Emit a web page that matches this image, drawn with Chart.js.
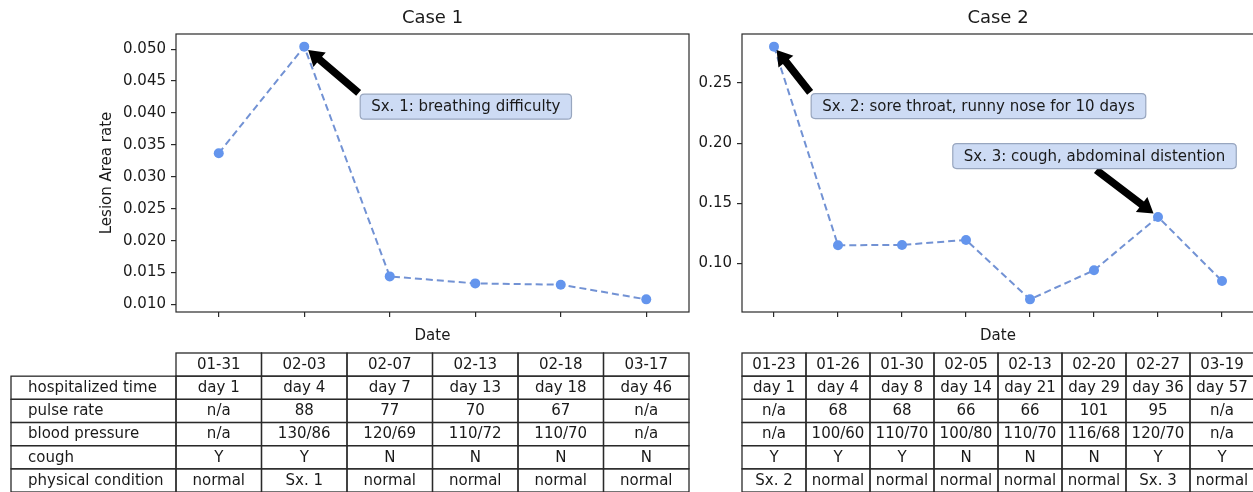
<!DOCTYPE html>
<html><head><meta charset="utf-8">
<script src="https://cdn.jsdelivr.net/npm/chart.js@4.4.0/dist/chart.umd.min.js"></script>
<style>
html,body{margin:0;padding:0;background:#fff;overflow:hidden;width:1253px;height:492px;}
canvas{position:absolute;top:0;}
#c1{left:0;} #c2{left:690px;}
</style></head><body>
<canvas id="c1" width="700" height="492"></canvas>
<canvas id="c2" width="569" height="492"></canvas>
<script>
// ---------- data ----------
const rowLabels = ['hospitalized time', 'pulse rate', 'blood pressure', 'cough', 'physical condition'];

const case1Dates = ['01-31', '02-03', '02-07', '02-13', '02-18', '03-17'];
const case1Lesion = [0.0337, 0.0504, 0.0144, 0.0133, 0.0131, 0.0108];
const case1Hospitalized = ['day 1', 'day 4', 'day 7', 'day 13', 'day 18', 'day 46'];
const case1Pulse = ['n/a', '88', '77', '70', '67', 'n/a'];
const case1BP = ['n/a', '130/86', '120/69', '110/72', '110/70', 'n/a'];
const case1Cough = ['Y', 'Y', 'N', 'N', 'N', 'N'];
const case1Condition = ['normal', 'Sx. 1', 'normal', 'normal', 'normal', 'normal'];
const case1YTicks = [0.010, 0.015, 0.020, 0.025, 0.030, 0.035, 0.040, 0.045, 0.050];

const case2Dates = ['01-23', '01-26', '01-30', '02-05', '02-13', '02-20', '02-27', '03-19'];
const case2Lesion = [0.2803, 0.1150, 0.1153, 0.1194, 0.0700, 0.0942, 0.1386, 0.0853];
const case2Hospitalized = ['day 1', 'day 4', 'day 8', 'day 14', 'day 21', 'day 29', 'day 36', 'day 57'];
const case2Pulse = ['n/a', '68', '68', '66', '66', '101', '95', 'n/a'];
const case2BP = ['n/a', '100/60', '110/70', '100/80', '110/70', '116/68', '120/70', 'n/a'];
const case2Cough = ['Y', 'Y', 'Y', 'N', 'N', 'N', 'Y', 'Y'];
const case2Condition = ['Sx. 2', 'normal', 'normal', 'normal', 'normal', 'normal', 'Sx. 3', 'normal'];
const case2YTicks = [0.10, 0.15, 0.20, 0.25];

const case1Notes = [{ index: 1, text: 'Sx. 1: breathing difficulty', tx: 2.89, ty: 0.0410 }];
const case2Notes = [
  { index: 0, text: 'Sx. 2: sore throat, runny nose for 10 days', tx: 3.195, ty: 0.2308 },
  { index: 6, text: 'Sx. 3: cough, abdominal distention', tx: 5.008, ty: 0.1892 }
];

// ---------- styling ----------
const FAMILY = '"DejaVu Sans", sans-serif';
const TXT = '#1a1a1a';
const EDGE = '#2a2a2a';

function drawArrow(ctx, sx, sy, ex, ey) {
  const dx = ex - sx, dy = ey - sy, L = Math.hypot(dx, dy);
  const ux = dx / L, uy = dy / L, nx = -uy, ny = ux;
  const shrink = 0.07 * L;
  const Sx = sx + ux * shrink * 0.4, Sy = sy + uy * shrink * 0.4;
  const Ex = ex - ux * shrink, Ey = ey - uy * shrink;
  const w = 3.8, hw = 9.5, hl = 15;
  const Bx = Ex - ux * hl, By = Ey - uy * hl;
  ctx.save();
  ctx.fillStyle = '#000';
  ctx.beginPath();
  ctx.moveTo(Sx + nx * w, Sy + ny * w);
  ctx.lineTo(Bx + nx * w, By + ny * w);
  ctx.lineTo(Bx + nx * hw, By + ny * hw);
  ctx.lineTo(Ex, Ey);
  ctx.lineTo(Bx - nx * hw, By - ny * hw);
  ctx.lineTo(Bx - nx * w, By - ny * w);
  ctx.lineTo(Sx - nx * w, Sy - ny * w);
  ctx.closePath();
  ctx.fill();
  ctx.restore();
}

function roundRect(ctx, x, y, w, h, r) {
  ctx.beginPath();
  ctx.moveTo(x + r, y);
  ctx.lineTo(x + w - r, y); ctx.quadraticCurveTo(x + w, y, x + w, y + r);
  ctx.lineTo(x + w, y + h - r); ctx.quadraticCurveTo(x + w, y + h, x + w - r, y + h);
  ctx.lineTo(x + r, y + h); ctx.quadraticCurveTo(x, y + h, x, y + h - r);
  ctx.lineTo(x, y + r); ctx.quadraticCurveTo(x, y, x + r, y);
  ctx.closePath();
}

function decorPlugin(cfg) {
  return {
    id: 'decor' + cfg.title.replace(/\s/g, ''),
    afterDatasetsDraw(chart) {
      const ctx = chart.ctx, a = chart.chartArea;
      const xs = chart.scales.x, ys = chart.scales.y;
      ctx.save();
      ctx.strokeStyle = EDGE; ctx.lineWidth = 1.2;
      ctx.strokeRect(a.left, a.top, a.right - a.left, a.bottom - a.top);
      ctx.fillStyle = TXT;
      ctx.font = '18px ' + FAMILY;
      ctx.textAlign = 'center'; ctx.textBaseline = 'middle';
      ctx.fillText(cfg.title, (a.left + a.right) / 2, 18);
      ctx.restore();
      cfg.notes.forEach(n => {
        const px = xs.getPixelForValue(n.index), py = ys.getPixelForValue(cfg.values[n.index]);
        const cx = xs.getPixelForValue(n.tx), cy = ys.getPixelForValue(n.ty);
        ctx.save();
        ctx.font = '15px ' + FAMILY;
        const tw = ctx.measureText(n.text).width;
        const bw = tw + 22, bh = 25;
        const bx = cx - bw / 2, by = cy - bh / 2;
        let best = null, bd = Infinity;
        [0, 0.5, 1].forEach(fx => [0, 0.5, 1].forEach(fy => {
          const qx = bx + fx * bw, qy = by + fy * bh;
          const d = Math.hypot(qx - px, qy - py);
          if (d < bd) { bd = d; best = [qx, qy]; }
        }));
        drawArrow(ctx, best[0], best[1], px, py);
        roundRect(ctx, bx, by, bw, bh, 4);
        ctx.fillStyle = '#cddbf4';
        ctx.fill();
        ctx.strokeStyle = '#98a6bf'; ctx.lineWidth = 1.2;
        ctx.stroke();
        ctx.fillStyle = TXT;
        ctx.textAlign = 'center'; ctx.textBaseline = 'middle';
        ctx.fillText(n.text, cx, cy + 0.5);
        ctx.restore();
      });
    },
    afterDraw(chart) {
      const ctx = chart.ctx, a = chart.chartArea, xs = chart.scales.x;
      const top = a.bottom + 41;
      const rows = [cfg.labels].concat(cfg.rows);
      const rh = (chart.height - top) / rows.length;
      ctx.save();
      ctx.font = '15px ' + FAMILY;
      ctx.textBaseline = 'middle';
      ctx.strokeStyle = EDGE; ctx.lineWidth = 1.3;
      rows.forEach((row, r) => {
        const y0 = top + r * rh;
        if (cfg.showRowLabels && r > 0) {
          ctx.strokeRect(11, y0, a.left - 11, rh);
          ctx.fillStyle = TXT; ctx.textAlign = 'left';
          ctx.fillText(rowLabels[r - 1], 28, y0 + rh / 2 + 0.5);
        }
        row.forEach((txt, i) => {
          const x0 = xs.getPixelForValue(i - 0.5), x1 = xs.getPixelForValue(i + 0.5);
          ctx.strokeRect(x0, y0, x1 - x0, rh);
          ctx.fillStyle = TXT; ctx.textAlign = 'center';
          ctx.fillText(txt, (x0 + x1) / 2, y0 + rh / 2 + 0.5);
        });
      });
      ctx.restore();
    }
  };
}

function makeChart(canvas, cfg) {
  const lo = Math.min(...cfg.values), hi = Math.max(...cfg.values);
  const m = (hi - lo) * 0.05;
  return new Chart(canvas, {
    type: 'line',
    data: {
      labels: cfg.labels,
      datasets: [{
        data: cfg.values,
        borderColor: '#7292d4',
        borderWidth: 2,
        borderDash: [7, 4],
        pointRadius: 5,
        pointBackgroundColor: '#6495ED',
        pointBorderColor: '#6495ED',
        pointBorderWidth: 0,
        tension: 0,
        fill: false,
        clip: 8
      }]
    },
    options: {
      responsive: false,
      animation: false,
      devicePixelRatio: 1,
      layout: { padding: { top: 34, bottom: 139, left: 0, right: cfg.padRight } },
      plugins: { legend: { display: false }, tooltip: { enabled: false }, title: { display: false } },
      scales: {
        x: {
          type: 'category',
          offset: true,
          grid: { offset: false, drawOnChartArea: false, drawTicks: true, tickLength: 5, color: EDGE, lineWidth: 1.2 },
          border: { display: false },
          ticks: { display: false },
          title: { display: true, text: 'Date', color: TXT, font: { family: FAMILY, size: 15 }, padding: { top: 0, bottom: 8 } },
          afterFit: s => { s.height = 41; }
        },
        y: {
          type: 'linear',
          min: lo - m,
          max: hi + m,
          afterBuildTicks: s => { s.ticks = cfg.yTicks.map(v => ({ value: v })); },
          ticks: { callback: v => v.toFixed(cfg.decimals), color: TXT, font: { family: FAMILY, size: 15 }, padding: 5 },
          grid: { drawOnChartArea: false, drawTicks: true, tickLength: 5, color: EDGE, lineWidth: 1.2 },
          border: { display: false },
          title: cfg.yTitle
            ? { display: true, text: cfg.yTitle, color: TXT, font: { family: FAMILY, size: 15 }, padding: { top: 98, bottom: 0 } }
            : { display: false },
          afterFit: s => { s.width = cfg.yWidth; }
        }
      }
    },
    plugins: [decorPlugin(cfg)]
  });
}

makeChart(document.getElementById('c1'), {
  title: 'Case 1', labels: case1Dates, values: case1Lesion, yTicks: case1YTicks, decimals: 3,
  yTitle: 'Lesion Area rate', yWidth: 176, padRight: 11, showRowLabels: true,
  rows: [case1Hospitalized, case1Pulse, case1BP, case1Cough, case1Condition],
  notes: case1Notes
});
makeChart(document.getElementById('c2'), {
  title: 'Case 2', labels: case2Dates, values: case2Lesion, yTicks: case2YTicks, decimals: 2,
  yTitle: null, yWidth: 52, padRight: 0, showRowLabels: false,
  rows: [case2Hospitalized, case2Pulse, case2BP, case2Cough, case2Condition],
  notes: case2Notes
});
</script>
</body></html>
